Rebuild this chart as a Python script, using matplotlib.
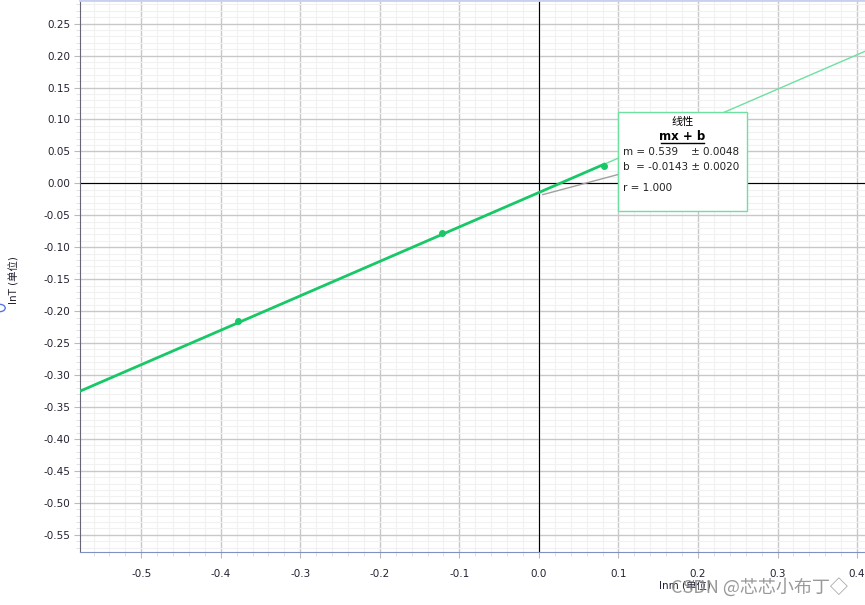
import numpy as np
import matplotlib.pyplot as plt
from matplotlib.ticker import MultipleLocator
from matplotlib.patches import Circle

plt.rcParams['font.family'] = ['DejaVu Sans', 'Noto Sans CJK SC']
plt.rcParams['axes.unicode_minus'] = False

# measured points (lnm, lnT)
lnm = [-0.378, -0.122, 0.082]
lnT = [-0.215, -0.078, 0.027]

# linear fit result shown in the box
m = 0.539
b = -0.0143
fit_text = ["m = 0.539    \u00b1 0.0048", "b  = -0.0143 \u00b1 0.0020", "r = 1.000"]

x_lim = (-0.577, 0.41)
y_lim = (-0.577, 0.287)

fig = plt.figure(figsize=(8.65, 6.05), dpi=100)
ax = fig.add_axes([80 / 865, 53 / 605, 785 / 865, 552 / 605])
ax.set_xlim(*x_lim)
ax.set_ylim(*y_lim)

ax.xaxis.set_major_locator(MultipleLocator(0.1))
ax.xaxis.set_minor_locator(MultipleLocator(0.02))
ax.yaxis.set_major_locator(MultipleLocator(0.05))
ax.yaxis.set_minor_locator(MultipleLocator(0.01))
ax.grid(which='major', color='#c8c8c8', lw=1.0)
ax.grid(which='minor', color='#f1f1f1', lw=0.8)
ax.set_axisbelow(True)

ax.axhline(0, color='black', lw=0.8)
ax.axvline(0, color='black', lw=0.8)

# fit line over full range (thin) and thick part up to last point
xs = np.array(x_lim)
ax.plot(xs, m * xs + b, color='#6ee0a0', lw=1.0, zorder=3)
xt = np.array([x_lim[0], lnm[-1]])
ax.plot(xt, m * xt + b, color='#18c868', lw=2.0, zorder=4)
ax.plot(lnm, lnT, 'o', color='#18c868', ms=4, zorder=5)

# leader line from box to fit line
ax.plot([0.005, 0.1], [m * 0.005 + b - 0.006, 0.014], color='#a0a0a0', lw=1.0, zorder=4)

# fit box
bx0, bx1 = (618 - 539) / 795, (747 - 539) / 795
by0, by1 = (183.5 - 211) / 638.6, (183.5 - 112) / 638.6
ax.add_patch(plt.Rectangle((bx0, by0), bx1 - bx0, by1 - by0, facecolor='white',
                           edgecolor='#6ee0a0', lw=1.0, zorder=6))
cx = (bx0 + bx1) / 2
ax.text(cx, (183.5 - 122) / 638.6, "线性", ha='center', va='center', fontsize=8, zorder=7)
ax.text(cx, (183.5 - 137) / 638.6, "mx + b", ha='center', va='center', fontsize=8.5,
        fontweight='bold', zorder=7)
ax.plot([cx - 0.027, cx + 0.027], [(183.5 - 143.5) / 638.6] * 2, color='black', lw=1.0, zorder=7)
tx = (623 - 539) / 795
for t, yy in zip(fit_text, [152, 167, 188]):
    ax.text(tx, (183.5 - yy) / 638.6, t, ha='left', va='center', fontsize=7.5,
            color='#222222', zorder=7)

ax.tick_params(which='major', direction='out', length=4, color='#bbbbbb',
               labelsize=7.5, labelcolor='#222233', pad=3)
ax.tick_params(which='minor', direction='out', length=3, color='#dddddd')
ax.tick_params(axis='x', pad=8)

ax.spines['right'].set_visible(False)
ax.spines['left'].set_color('#666677')
ax.spines['bottom'].set_color('#8090c0')
ax.spines['top'].set_color('#c8d0f0')
ax.spines['top'].set_linewidth(2)

fig.text(14 / 865, 1 - 280 / 605, "lnT (单位)", rotation=90, ha='center', va='center',
         fontsize=7.5, color='#222233')
fig.text(685 / 865, 1 - 586 / 605, "lnm (单位)", ha='center', va='center',
         fontsize=7.5, color='#222233')
fig.text(759 / 865, 1 - 587 / 605, "CSDN @芯芯小布丁◇", ha='center', va='center',
         fontsize=13, color='#888888', alpha=0.85,
         family=['Noto Sans CJK SC', 'DejaVu Sans'])
fig.patches.append(Circle((0.0, 1 - 308 / 605), 0.006, transform=fig.transFigure,
                          facecolor='white', edgecolor='#5577dd', lw=1.0))

fig.savefig('out.png', dpi=100)
